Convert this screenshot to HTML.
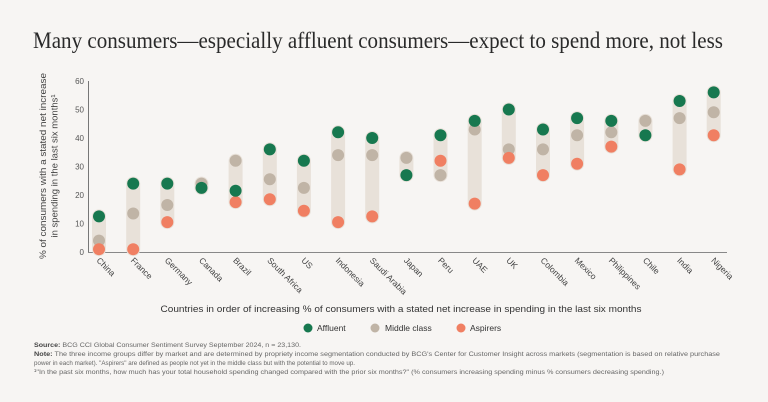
<!DOCTYPE html>
<html><head><meta charset="utf-8"><style>
html,body{margin:0;padding:0;background:#f7f5f3;}
svg{display:block;font-family:"Liberation Sans",sans-serif;}
</style></head><body>
<svg width="768" height="402" viewBox="0 0 768 402" xmlns="http://www.w3.org/2000/svg">
<rect width="768" height="402" fill="#f7f5f3"/>
<text x="33" y="48" font-family="Liberation Serif,serif" font-size="23" fill="#2a2a2a" textLength="690" lengthAdjust="spacingAndGlyphs">Many consumers—especially affluent consumers—expect to spend more, not less</text>
<g transform="translate(46,166) rotate(-90)" font-size="9.5" fill="#444" text-anchor="middle">
<text x="0" y="0" textLength="186" lengthAdjust="spacingAndGlyphs">% of consumers with a stated net increase</text>
<text x="0" y="11.5">in spending in the last six months¹</text>
</g>
<g font-size="8" fill="#555" text-anchor="end">
<text x="84" y="255">0</text><text x="84" y="226.5">10</text><text x="84" y="198">20</text><text x="84" y="169.5">30</text><text x="84" y="141">40</text><text x="84" y="112.5">50</text><text x="84" y="84">60</text>
</g>
<line x1="88.5" y1="81" x2="88.5" y2="252" stroke="#777" stroke-width="1"/>
<line x1="88" y1="252.5" x2="727" y2="252.5" stroke="#888" stroke-width="1"/>
<g stroke="#e8e1d9" stroke-width="14" stroke-linecap="round">
<line x1="99" y1="216.4" x2="99" y2="249.2"/>
<line x1="133.2" y1="183.6" x2="133.2" y2="249.2"/>
<line x1="167.3" y1="183.6" x2="167.3" y2="222.1"/>
<line x1="201.5" y1="183.6" x2="201.5" y2="187.9"/>
<line x1="235.6" y1="160.8" x2="235.6" y2="202.1"/>
<line x1="269.8" y1="149.4" x2="269.8" y2="199.3"/>
<line x1="303.9" y1="160.8" x2="303.9" y2="210.7"/>
<line x1="338.1" y1="132.3" x2="338.1" y2="222.1"/>
<line x1="372.2" y1="138" x2="372.2" y2="216.4"/>
<line x1="406.4" y1="157.9" x2="406.4" y2="175.1"/>
<line x1="440.5" y1="135.2" x2="440.5" y2="175.1"/>
<line x1="474.7" y1="120.9" x2="474.7" y2="203.6"/>
<line x1="508.8" y1="109.5" x2="508.8" y2="157.9"/>
<line x1="543" y1="129.5" x2="543" y2="175.1"/>
<line x1="577.1" y1="118.1" x2="577.1" y2="163.7"/>
<line x1="611.3" y1="120.9" x2="611.3" y2="146.6"/>
<line x1="645.4" y1="120.9" x2="645.4" y2="135.2"/>
<line x1="679.6" y1="101" x2="679.6" y2="169.4"/>
<line x1="713.7" y1="92.4" x2="713.7" y2="135.2"/>
</g>
<g fill="#c0b4a6">
<circle cx="99" cy="240.6" r="6"/><circle cx="133.2" cy="213.5" r="6"/><circle cx="167.3" cy="205" r="6"/><circle cx="201.5" cy="183.6" r="6"/><circle cx="235.6" cy="160.8" r="6"/><circle cx="269.8" cy="179.3" r="6"/><circle cx="303.9" cy="187.9" r="6"/><circle cx="338.1" cy="155.1" r="6"/><circle cx="372.2" cy="155.1" r="6"/><circle cx="406.4" cy="157.9" r="6"/><circle cx="440.5" cy="175.1" r="6"/><circle cx="474.7" cy="129.5" r="6"/><circle cx="508.8" cy="149.4" r="6"/><circle cx="543" cy="149.4" r="6"/><circle cx="577.1" cy="135.2" r="6"/><circle cx="611.3" cy="132.3" r="6"/><circle cx="645.4" cy="120.9" r="6"/><circle cx="679.6" cy="118.1" r="6"/><circle cx="713.7" cy="112.3" r="6"/>
</g>
<g fill="#f07f62">
<circle cx="99" cy="249.2" r="6"/><circle cx="133.2" cy="249.2" r="6"/><circle cx="167.3" cy="222.1" r="6"/><circle cx="235.6" cy="202.1" r="6"/><circle cx="269.8" cy="199.3" r="6"/><circle cx="303.9" cy="210.7" r="6"/><circle cx="338.1" cy="222.1" r="6"/><circle cx="372.2" cy="216.4" r="6"/><circle cx="440.5" cy="160.8" r="6"/><circle cx="474.7" cy="203.6" r="6"/><circle cx="508.8" cy="157.9" r="6"/><circle cx="543" cy="175.1" r="6"/><circle cx="577.1" cy="163.7" r="6"/><circle cx="611.3" cy="146.6" r="6"/><circle cx="679.6" cy="169.4" r="6"/><circle cx="713.7" cy="135.2" r="6"/>
</g>
<g fill="#17784f">
<circle cx="99" cy="216.4" r="6"/><circle cx="133.2" cy="183.6" r="6"/><circle cx="167.3" cy="183.6" r="6"/><circle cx="201.5" cy="187.9" r="6"/><circle cx="235.6" cy="190.7" r="6"/><circle cx="269.8" cy="149.4" r="6"/><circle cx="303.9" cy="160.8" r="6"/><circle cx="338.1" cy="132.3" r="6"/><circle cx="372.2" cy="138" r="6"/><circle cx="406.4" cy="175.1" r="6"/><circle cx="440.5" cy="135.2" r="6"/><circle cx="474.7" cy="120.9" r="6"/><circle cx="508.8" cy="109.5" r="6"/><circle cx="543" cy="129.5" r="6"/><circle cx="577.1" cy="118.1" r="6"/><circle cx="611.3" cy="120.9" r="6"/><circle cx="645.4" cy="135.2" r="6"/><circle cx="679.6" cy="101" r="6"/><circle cx="713.7" cy="92.4" r="6"/>
</g>
<g font-size="8.5" fill="#444">
<text transform="translate(96,261) rotate(45)">China</text>
<text transform="translate(130.2,261) rotate(45)">France</text>
<text transform="translate(164.3,261) rotate(45)">Germany</text>
<text transform="translate(198.5,261) rotate(45)">Canada</text>
<text transform="translate(232.6,261) rotate(45)">Brazil</text>
<text transform="translate(266.8,261) rotate(45)">South Africa</text>
<text transform="translate(300.9,261) rotate(45)">US</text>
<text transform="translate(335.1,261) rotate(45)">Indonesia</text>
<text transform="translate(369.2,261) rotate(45)">Saudi Arabia</text>
<text transform="translate(403.4,261) rotate(45)">Japan</text>
<text transform="translate(437.5,261) rotate(45)">Peru</text>
<text transform="translate(471.7,261) rotate(45)">UAE</text>
<text transform="translate(505.8,261) rotate(45)">UK</text>
<text transform="translate(540,261) rotate(45)">Colombia</text>
<text transform="translate(574.1,261) rotate(45)">Mexico</text>
<text transform="translate(608.3,261) rotate(45)">Philippines</text>
<text transform="translate(642.4,261) rotate(45)">Chile</text>
<text transform="translate(676.6,261) rotate(45)">India</text>
<text transform="translate(710.7,261) rotate(45)">Nigeria</text>
</g>
<text x="401" y="312" font-size="9.5" fill="#333" text-anchor="middle" textLength="481" lengthAdjust="spacingAndGlyphs">Countries in order of increasing % of consumers with a stated net increase in spending in the last six months</text>
<circle cx="308" cy="328" r="4.5" fill="#17784f"/><text x="317" y="331" font-size="8.5" fill="#333">Affluent</text>
<circle cx="375" cy="328" r="4.5" fill="#c0b4a6"/><text x="385" y="331" font-size="8.5" fill="#333">Middle class</text>
<circle cx="461" cy="328" r="4.5" fill="#f07f62"/><text x="470" y="331" font-size="8.5" fill="#333">Aspirers</text>
<g font-size="6.8" fill="#666">
<text x="34" y="347" textLength="267" lengthAdjust="spacingAndGlyphs"><tspan font-weight="bold" fill="#444">Source:</tspan> BCG CCI Global Consumer Sentiment Survey September 2024, n = 23,130.</text>
<text x="34" y="356" textLength="686" lengthAdjust="spacingAndGlyphs"><tspan font-weight="bold" fill="#444">Note:</tspan> The three income groups differ by market and are determined by propriety income segmentation conducted by BCG's Center for Customer Insight across markets (segmentation is based on relative purchase</text>
<text x="34" y="365" textLength="321" lengthAdjust="spacingAndGlyphs">power in each market). "Aspirers" are defined as people not yet in the middle class but with the potential to move up.</text>
<text x="34" y="374" textLength="630" lengthAdjust="spacingAndGlyphs">¹"In the past six months, how much has your total household spending changed compared with the prior six months?" (% consumers increasing spending minus % consumers decreasing spending.)</text>
</g>
</svg>
</body></html>
